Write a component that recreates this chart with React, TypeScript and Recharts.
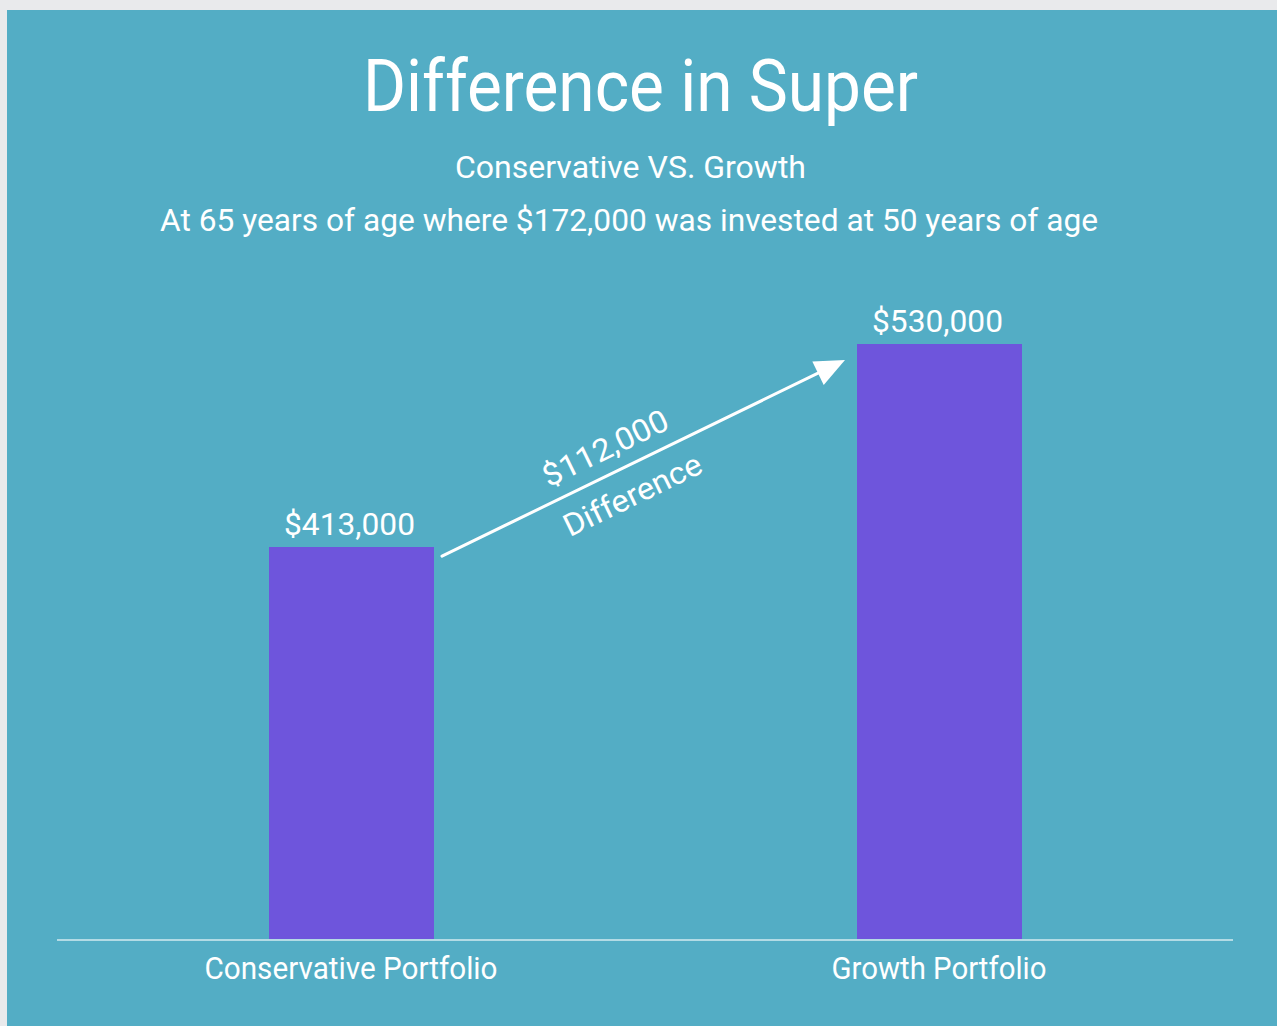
import React from 'react';
import { BarChart, Bar, XAxis, YAxis, LabelList } from 'recharts';

const categories = ['Conservative Portfolio', 'Growth Portfolio'];
const values = [413000, 530000];
const valueLabels = ['$413,000', '$530,000'];
const differenceLabel = '$112,000';
const differenceCaption = 'Difference';
const titleText = 'Difference in Super';
const subtitleText = 'Conservative VS. Growth';
const noteText = 'At 65 years of age where $172,000 was invested at 50 years of age';

const data = categories.map((name, i) => ({ name, value: values[i], label: valueLabels[i] }));

const BG = '#53adc5';
const BAR = '#6e55dc';
const FONT = 'Roboto, "Noto Sans", sans-serif';

const tickWidths: Record<string, number> = {
  'Conservative Portfolio': 293,
  'Growth Portfolio': 215,
};

const barGeom: Record<number, { x: number; y: number; width: number }> = {};

const BarValueLabel = (props: any) => {
  const { x, y, width, index } = props;
  const nx = Number(x);
  const ny = Number(y);
  const nw = Number(width);
  barGeom[index] = { x: nx, y: ny, width: nw };
  const label = data[index]?.label ?? '';
  let arrow = null;
  if (index === 1 && barGeom[0]) {
    const g0 = barGeom[0];
    const sx = g0.x + g0.width + 8;
    const sy = g0.y + 9;
    const tx = nx - 12;
    const ty = ny + 16;
    const dx = tx - sx;
    const dy = ty - sy;
    const len = Math.sqrt(dx * dx + dy * dy);
    const ang = (Math.atan2(dy, dx) * 180) / Math.PI;
    const mx = (sx + tx) / 2;
    const my = (sy + ty) / 2;
    arrow = (
      <g>
        <g transform={`translate(${sx},${sy}) rotate(${ang})`}>
          <line x1={0} y1={0} x2={len - 26} y2={0} stroke="#ffffff" strokeWidth={3} strokeLinecap="round" />
          <polygon points={`${len},0 ${len - 30},-13 ${len - 30},13`} fill="#ffffff" />
        </g>
        <g transform={`translate(${mx},${my}) rotate(${ang})`}>
          <text x={-30} y={-15} textAnchor="middle" fill="#ffffff" fontFamily={FONT} fontSize={31} textLength={136} lengthAdjust="spacingAndGlyphs">
            {differenceLabel}
          </text>
          <text x={-26} y={39} textAnchor="middle" fill="#ffffff" fontFamily={FONT} fontSize={31} textLength={150} lengthAdjust="spacingAndGlyphs">
            {differenceCaption}
          </text>
        </g>
      </g>
    );
  }
  return (
    <g>
      <text x={nx + nw / 2 - 2} y={ny - 12} textAnchor="middle" fill="#ffffff" fontFamily={FONT} fontSize={31} textLength={131} lengthAdjust="spacingAndGlyphs">
        {label}
      </text>
      {arrow}
    </g>
  );
};

const CategoryTick = (props: any) => {
  const { x, y, payload } = props;
  const v = String(payload?.value ?? '');
  return (
    <text x={Number(x)} y={Number(y) + 39} textAnchor="middle" fill="#ffffff" fontFamily={FONT} fontSize={31} textLength={tickWidths[v]} lengthAdjust="spacingAndGlyphs">
      {v}
    </text>
  );
};

export default function App() {
  return (
    <div style={{ position: 'fixed', left: 0, top: 0, width: 1277, height: 1026, background: '#e9eaec', overflow: 'hidden' }}>
      <div style={{ position: 'absolute', left: 7, top: 10, width: 1270, height: 1016, background: BG }}>
        <BarChart width={1270} height={1016} data={data} margin={{ top: 230, right: 44, bottom: 56, left: 50 }}>
          <XAxis
            dataKey="name"
            axisLine={{ stroke: '#b3dbe5', strokeWidth: 2 }}
            tickLine={false}
            tickSize={0}
            tickMargin={0}
            interval={0}
            tick={<CategoryTick />}
            height={30}
          />
          <YAxis hide domain={[186500, 590000]} />
          <Bar dataKey="value" fill={BAR} barSize={165} isAnimationActive={false}>
            <LabelList dataKey="value" content={<BarValueLabel />} />
          </Bar>
        </BarChart>
        <svg width={1270} height={1016} style={{ position: 'absolute', left: 0, top: 0, pointerEvents: 'none' }}>
          <text x={633.5} y={101} textAnchor="middle" fill="#ffffff" fontFamily={FONT} fontSize={72} textLength={555} lengthAdjust="spacingAndGlyphs">
            {titleText}
          </text>
          <text x={623.5} y={168} textAnchor="middle" fill="#ffffff" fontFamily={FONT} fontSize={32} textLength={351} lengthAdjust="spacingAndGlyphs">
            {subtitleText}
          </text>
          <text x={622} y={221} textAnchor="middle" fill="#ffffff" fontFamily={FONT} fontSize={32} textLength={938} lengthAdjust="spacingAndGlyphs">
            {noteText}
          </text>
        </svg>
      </div>
    </div>
  );
}
